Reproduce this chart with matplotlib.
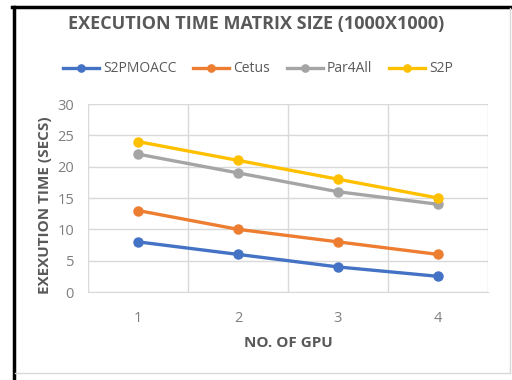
import matplotlib.pyplot as plt
from matplotlib.lines import Line2D

gpus = ["1", "2", "3", "4"]
s2pmoacc = [8, 6, 4, 2.5]
cetus = [13, 10, 8, 6]
par4all = [22, 19, 16, 14]
s2p = [24, 21, 18, 15]

series = [("S2PMOACC", s2pmoacc, "#4472C4"),
          ("Cetus", cetus, "#ED7D31"),
          ("Par4All", par4all, "#A5A5A5"),
          ("S2P", s2p, "#FFC000")]

plt.rcParams['font.family'] = ['Open Sans', 'DejaVu Sans']

W, H = 512, 380
fig = plt.figure(figsize=(W / 100, H / 100), dpi=100)
ax = fig.add_axes([88 / W, 1 - 292 / H, 400 / W, 188 / H])

x = list(range(1, len(gpus) + 1))
for name, vals, col in series:
    ax.plot(x, vals, color=col, lw=2.4, marker='o', ms=6.5, label=name)

ax.set_xlim(0.5, 4.5)
ax.set_ylim(0, 30)
ax.set_yticks(range(0, 31, 5))
ax.set_xticks(x)
ax.set_xticklabels(gpus)
ax.set_xticks([0.5, 1.5, 2.5, 3.5, 4.5], minor=True)
ax.grid(True, axis='y', color='#d9d9d9', lw=1)
ax.grid(True, axis='x', which='minor', color='#d9d9d9', lw=1)
ax.set_axisbelow(True)
for s in ax.spines.values():
    s.set_visible(False)
ax.spines['bottom'].set_visible(True)
ax.spines['bottom'].set_color('#d9d9d9')
ax.tick_params(which='both', length=0, colors='#7f7f7f', labelsize=10.5)
ax.tick_params(axis='x', pad=14)
ax.tick_params(axis='y', pad=10)

ax.set_xlabel("NO. OF GPU", fontsize=11, fontweight='bold', color='#595959', labelpad=7)
ax.set_ylabel("EXEXUTION TIME (SECS)", fontsize=11, fontweight='bold', color='#595959')
ax.yaxis.set_label_coords(-0.09, 0.46)

fig.text(256 / W, 1 - 24 / H, "EXECUTION TIME MATRIX SIZE (1000X1000)", ha='center', va='center',
         fontsize=13, fontweight='bold', color='#595959')
fig.legend(loc='center', bbox_to_anchor=(258 / W, 1 - 69 / H), ncol=4, frameon=False,
           fontsize=10, labelcolor='#595959', handlelength=2.6, columnspacing=1.2,
           handletextpad=0.3, markerscale=0.8)

# screenshot frame
fig.add_artist(Line2D([13.5 / W, 13.5 / W], [0, 1 - 6.5 / H], color='black', lw=2.5))
fig.add_artist(Line2D([12 / W, 1], [1 - 6.5 / H, 1 - 6.5 / H], color='black', lw=2.5))
fig.add_artist(Line2D([15 / W, 510 / W], [1 - 373 / H, 1 - 373 / H], color='#d9d9d9', lw=1))
fig.add_artist(Line2D([510 / W, 510 / W], [1 - 373 / H, 1 - 8 / H], color='#d9d9d9', lw=1))

fig.savefig("out.png", dpi=100)
